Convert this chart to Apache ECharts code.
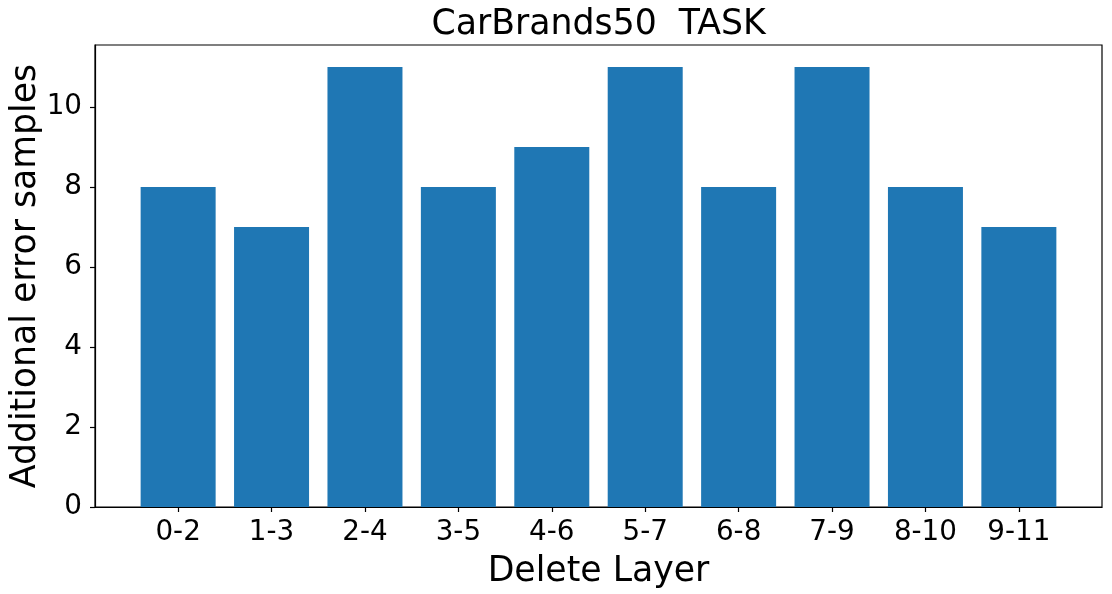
<!DOCTYPE html>
<html>
<head>
<meta charset="utf-8">
<script src="https://cdn.jsdelivr.net/npm/echarts@6/dist/echarts.min.js"></script>
<style>
html,body{margin:0;padding:0;background:#fff;}
#c{width:1112px;height:594px;}
</style>
</head>
<body>
<div id="c"></div>
<script>
const categories = ['0-2','1-3','2-4','3-5','4-6','5-7','6-8','7-9','8-10','9-11'];
const values = [8, 7, 11, 8, 9, 11, 8, 11, 8, 7];
const yTicks = [0, 2, 4, 6, 8, 10];
const titleText = 'CarBrands50  TASK';
const xName = 'Delete Layer';
const yName = 'Additional error samples';

const font = 'DejaVu Sans';
const chart = echarts.init(document.getElementById('c'), null, {renderer: 'canvas'});
const xIdx = categories.map((_, i) => i);
chart.setOption({
  animation: false,
  backgroundColor: '#fff',
  graphic: [{
    type: 'text', left: 598.5 - 167, top: 7,
    style: {text: titleText, x: 0, y: 0, fontFamily: font, fontSize: 34.7, fill: '#000'}
  }],
  grid: {left: 95, right: 10, top: 45, bottom: 87, show: true, borderColor: '#000', borderWidth: 1.2,
         containLabel: false, outerBoundsMode: 'none'},
  xAxis: {
    type: 'value', min: -0.89, max: 9.89,
    name: xName, nameLocation: 'middle', nameGap: 47, nameMoveOverlap: false,
    nameTextStyle: {fontFamily: font, fontSize: 34.7, color: '#000', verticalAlign: 'top'},
    splitLine: {show: false},
    axisLine: {show: true, onZero: false, lineStyle: {color: '#000', width: 1.2}},
    axisTick: {show: true, customValues: xIdx, length: 5, lineStyle: {color: '#000', width: 1.2}},
    axisLabel: {customValues: xIdx, formatter: v => categories[Math.round(v)], fontFamily: font, fontSize: 27.8, color: '#000', margin: 12}
  },
  yAxis: {
    type: 'value', min: 0, max: 11.55,
    name: yName, nameLocation: 'middle', nameGap: 52, nameRotate: 90, nameMoveOverlap: false,
    nameTextStyle: {fontFamily: font, fontSize: 34.7, color: '#000'},
    splitLine: {show: false},
    axisLine: {show: true, onZero: false, lineStyle: {color: '#000', width: 1.2}},
    axisTick: {show: true, customValues: yTicks, length: 5, lineStyle: {color: '#000', width: 1.2}},
    axisLabel: {customValues: yTicks, fontFamily: font, fontSize: 27.8, color: '#000', margin: 13}
  },
  series: [{
    type: 'bar',
    data: values.map((v, i) => [i, v]),
    barWidth: 75,
    itemStyle: {color: '#1f77b4'}
  }]
});
</script>
</body>
</html>
